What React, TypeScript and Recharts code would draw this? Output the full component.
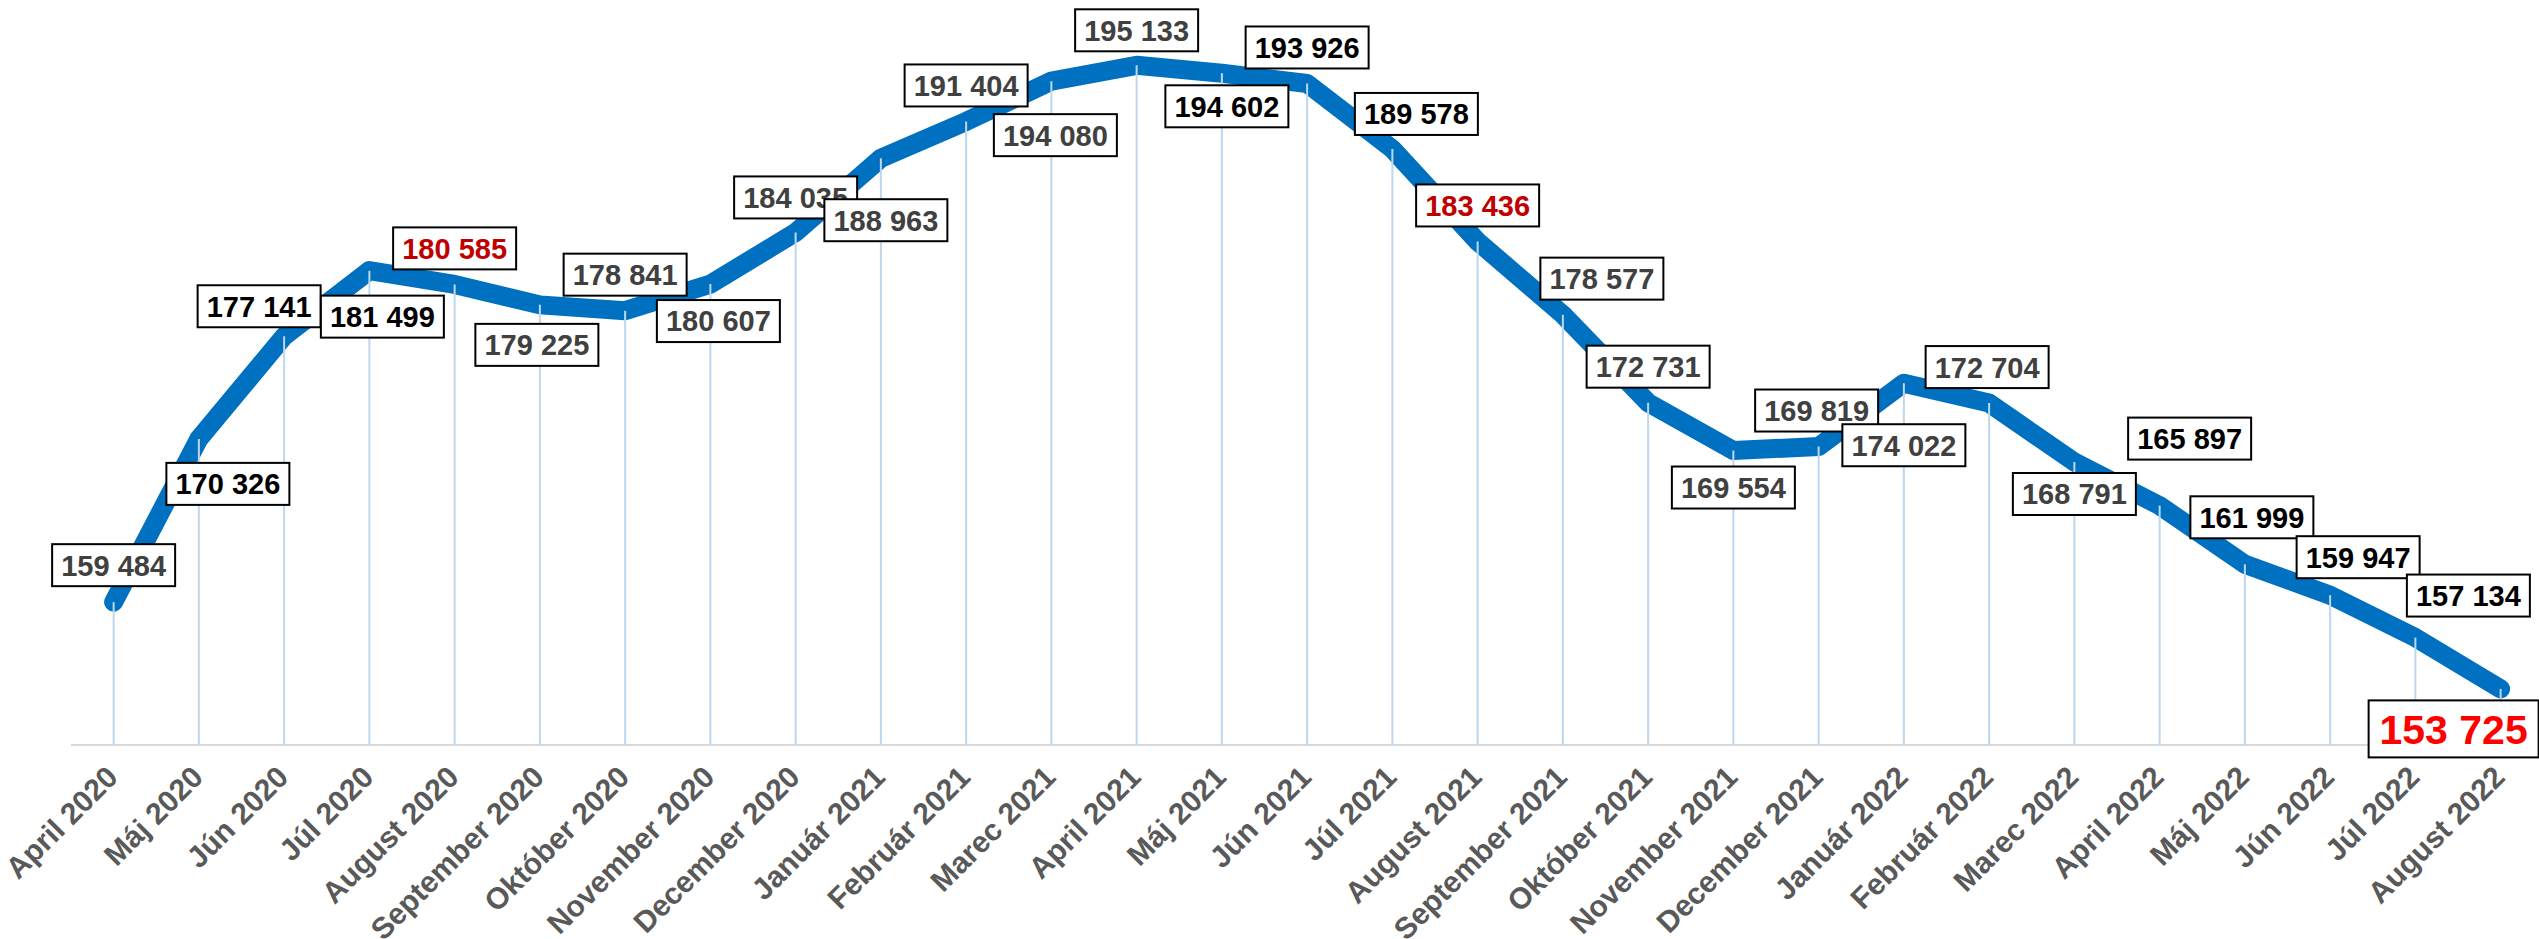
import React from 'react';
import { LineChart, Line, XAxis, YAxis, LabelList } from 'recharts';

// ---- data ----
const months = [
  'April 2020', 'Máj 2020', 'Jún 2020', 'Júl 2020', 'August 2020', 'September 2020',
  'Október 2020', 'November 2020', 'December 2020', 'Január 2021', 'Február 2021',
  'Marec 2021', 'April 2021', 'Máj 2021', 'Jún 2021', 'Júl 2021', 'August 2021',
  'September 2021', 'Október 2021', 'November 2021', 'December 2021', 'Január 2022',
  'Február 2022', 'Marec 2022', 'April 2022', 'Máj 2022', 'Jún 2022', 'Júl 2022',
  'August 2022',
];

const counts = [
  159484, 170326, 177141, 181499, 180585, 179225, 178841, 180607, 184035, 188963,
  191404, 194080, 195133, 194602, 193926, 189578, 183436, 178577, 172731, 169554,
  169819, 174022, 172704, 168791, 165897, 161999, 159947, 157134, 153725,
];

const yDomain = [150000, 200000];

// ---- label styling (kind per point: g = gray, k = black, r = dark red, R = highlight) ----
const labelKinds = [
  'g', 'k', 'k', 'k', 'r', 'g', 'g', 'g', 'g', 'g',
  'g', 'g', 'g', 'k', 'k', 'k', 'r', 'g', 'g', 'g',
  'g', 'g', 'g', 'g', 'k', 'k', 'k', 'k', 'R',
];

// label box centre offset from its point [dx, dy]
const labelOffsets = [
  [0, -37], [29, 45], [-25, -30], [13, 46], [0, -36], [-3, 40], [0, -36], [8, 37],
  [0, -35], [5, 62], [0, -36], [4, 54], [0, -35], [5, 33], [0, -36], [24, -35],
  [0, -36], [39, -36], [0, -36], [0, 37], [-2, -36], [0, 62], [-2, -36], [0, 32],
  [30, -67], [7, -47], [28, -38], [53, -42], [-47, 40],
];

const data = months.map((m, i) => ({ month: m, value: counts[i] }));

// ---- layout ----
const CHART_W = 2560;
const CHART_H = 960;
const XAXIS_H = 207;
const PLOT_BOTTOM = CHART_H - XAXIS_H;
const FONT = '"Liberation Sans", Arial, Helvetica, sans-serif';

const fmt = (v: number) =>
  `${Math.floor(v / 1000)} ${String(v % 1000).padStart(3, '0')}`;

const MonthTick = (props: any) => {
  const { x, y, payload } = props;
  const ax = x + 6;
  const ay = y + 34;
  return (
    <text
      x={ax}
      y={ay}
      transform={`rotate(-45 ${ax} ${ay})`}
      textAnchor="end"
      fill="#595959"
      fontSize={30}
      fontWeight="bold"
      fontFamily={FONT}
    >
      {payload.value}
    </text>
  );
};

const DropLine = (props: any) => {
  const { cx, cy, index } = props;
  if (cx == null || cy == null) return <g key={`d${index}`} />;
  return (
    <line
      key={`d${index}`}
      x1={cx}
      y1={cy}
      x2={cx}
      y2={PLOT_BOTTOM}
      stroke="#BDD7EE"
      strokeWidth={2}
    />
  );
};

const renderLabel = (props: any) => {
  const vb = props.viewBox || {};
  const x = props.x != null ? props.x : vb.x;
  const y = props.y != null ? props.y : vb.y;
  const value = Number(props.value);
  let index = props.index;
  if (index == null) index = counts.indexOf(value);
  const kind = labelKinds[index];
  const [dx, dy] = labelOffsets[index] || [0, -36];
  const big = kind === 'R';
  const fs = big ? 41 : 29;
  const w = big ? 170 : 123;
  const h = big ? 57 : 42;
  const color = kind === 'k' ? '#000000' : kind === 'r' ? '#C00000' : kind === 'R' ? '#FF0000' : '#404040';
  const cx = x + dx;
  const cy = y + dy;
  return (
    <g key={`l${index}`}>
      <rect x={cx - w / 2} y={cy - h / 2} width={w} height={h} fill="#FFFFFF" stroke="#000000" strokeWidth={2} />
      <text
        x={cx}
        y={cy + fs * 0.36}
        textAnchor="middle"
        fill={color}
        fontSize={fs}
        fontWeight="bold"
        fontFamily={FONT}
      >
        {fmt(value)}
      </text>
    </g>
  );
};

export default function App() {
  return (
    <div
      style={{
        position: 'absolute',
        left: 0,
        top: 0,
        width: 2539,
        height: 939,
        overflow: 'hidden',
        background: '#FFFFFF',
      }}
    >
      <div style={{ position: 'absolute', left: 0, top: -8 }}>
        <LineChart
          width={CHART_W}
          height={CHART_H}
          data={data}
          margin={{ top: 0, right: 16.75, bottom: 0, left: 71 }}
        >
          <XAxis
            dataKey="month"
            interval={0}
            height={XAXIS_H}
            tickLine={false}
            tickSize={0}
            tickMargin={0}
            axisLine={{ stroke: '#D9D9D9', strokeWidth: 2 }}
            padding={{ left: 42.625, right: 42.625 }}
            tick={<MonthTick />}
          />
          <YAxis hide domain={yDomain} type="number" />
          <Line
            type="linear"
            dataKey="value"
            stroke="#0070C0"
            strokeWidth={19}
            strokeLinecap="round"
            strokeLinejoin="round"
            dot={(p: any) => <DropLine key={`d${p.index}`} {...p} />}
            activeDot={false}
            isAnimationActive={false}
          >
            <LabelList dataKey="value" content={renderLabel} />
          </Line>
        </LineChart>
      </div>
    </div>
  );
}
